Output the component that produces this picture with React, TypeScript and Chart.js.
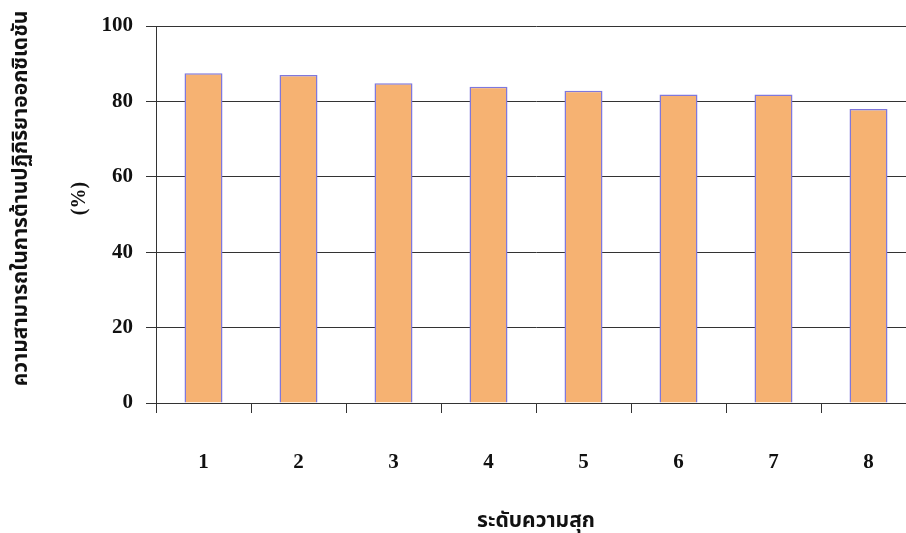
import React, { useEffect, useRef } from "react";
import { Chart, registerables } from "chart.js";

Chart.register(...registerables);

const categories = ["1", "2", "3", "4", "5", "6", "7", "8"];
const values = [87.5, 87.0, 84.8, 83.9, 82.8, 81.8, 81.8, 78.0];
const yTitleLines = ["ความสามารถในการต้านปฏิกิริยาออกซิเดชัน", "(%)"];
const xTitle = "ระดับความสุก";

const FONT = "'Liberation Serif', 'Times New Roman', serif";
const THAI_FONT = "'Noto Sans Thai', 'Loma', 'Garuda', 'Norasi', 'Liberation Serif', sans-serif";

const yTitlePlugin = {
  id: "yTitle",
  afterDraw(chart: any) {
    const { ctx, chartArea } = chart;
    const cy = (chartArea.top + chartArea.bottom) / 2 - 16;
    ctx.save();
    ctx.fillStyle = "#111";
    ctx.textAlign = "center";
    ctx.textBaseline = "middle";
    ctx.translate(23, cy);
    ctx.rotate(-Math.PI / 2);
    ctx.font = `bold 21px ${THAI_FONT}`;
    ctx.fillText(yTitleLines[0], 0, 0);
    ctx.font = `bold 20px ${FONT}`;
    ctx.fillText(yTitleLines[1], 0, 57);
    ctx.restore();
  },
};

export default function App() {
  const ref = useRef<HTMLCanvasElement | null>(null);
  useEffect(() => {
    document.body.style.overflow = "hidden";
    const chart = new Chart(ref.current as HTMLCanvasElement, {
      type: "bar",
      data: {
        labels: categories,
        datasets: [
          {
            data: values,
            backgroundColor: "#F6B272",
            borderColor: "#7F78DC",
            borderWidth: 1.5,
            barPercentage: 0.4,
            categoryPercentage: 1,
          },
        ],
      },
      options: {
        animation: false,
        responsive: false,
        maintainAspectRatio: false,
        layout: { padding: { top: 26, right: 4, left: 0, bottom: 0 } },
        plugins: { legend: { display: false }, tooltip: { enabled: false } },
        scales: {
          x: {
            afterFit: (s: any) => {
              s.height = 130;
            },
            grid: {
              drawOnChartArea: false,
              drawTicks: true,
              tickLength: 10,
              color: "#333",
              offset: true,
            },
            border: { color: "#333", width: 1 },
            ticks: {
              color: "#111",
              padding: 37,
              font: { family: FONT, size: 21, weight: "bold" },
            },
            title: {
              display: true,
              text: xTitle,
              color: "#111",
              padding: { top: 0, bottom: -2 },
              font: { family: THAI_FONT, size: 21, weight: "bold" },
            },
          },
          y: {
            min: 0,
            max: 100,
            afterFit: (s: any) => {
              s.width = 156;
            },
            grid: {
              color: "#333",
              lineWidth: 1,
              tickLength: 10,
            },
            border: { color: "#333", width: 1 },
            ticks: {
              stepSize: 20,
              color: "#111",
              padding: 13,
              font: { family: FONT, size: 21, weight: "bold" },
            },
          },
        },
      },
      plugins: [yTitlePlugin],
    });
    return () => chart.destroy();
  }, []);
  return (
    <div style={{ position: "fixed", left: 0, top: 0, width: 920, height: 533, background: "#fff" }}>
      <canvas ref={ref} width={920} height={533} style={{ display: "block" }} />
    </div>
  );
}
